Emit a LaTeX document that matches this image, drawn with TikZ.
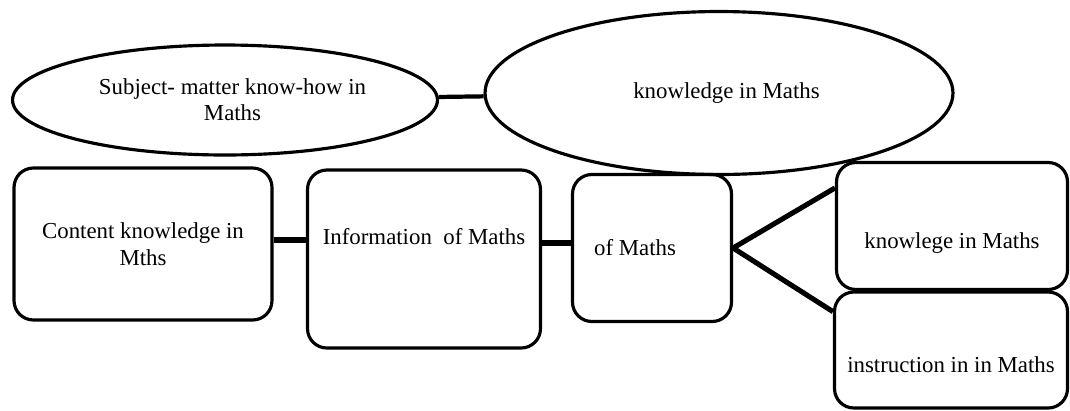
\documentclass[tikz,border=0pt]{standalone}
\usepackage{fontspec}
\setmainfont{Liberation Serif}
\usetikzlibrary{shapes.geometric}

\begin{document}
\begin{tikzpicture}[x=0.02cm, y=-0.02cm, every node/.style={font=\fontsize{13}{15}\selectfont}] % 1 unit = 1 px of the sketch
                \tikzset{
                  oval/.style={draw, ellipse, line width=1.8pt, align=center, inner sep=0pt},
                  box/.style={draw, rectangle, rounded corners=11pt, line width=1.8pt, inner sep=0pt},
                  link/.style={line width=2.9pt}
                }
                \useasboundingbox (0,0) rectangle (1070,410);

                % Top row: the two ovals
                \node[oval, minimum width=8.5cm, minimum height=2.2cm] (subject) at (225,100) {\hspace*{0.3cm}Subject- matter know-how in\\\hspace*{0.3cm}Maths};
                \node[oval, minimum width=9.36cm, minimum height=3.26cm] (knowledge) at (719,93) {\hspace*{0.3cm}knowledge in Maths};
                \draw[link, line width=2.4pt] (subject) -- (knowledge);

                % Bottom row: the chain of boxes
                \node[box, minimum width=5.16cm, minimum height=3.04cm, align=center] (content) at (143,244) {Content knowledge in\\Mths};
                \node[box, minimum width=4.66cm, minimum height=3.56cm,
                      label={[yshift=0.44cm]center:Information\ \ of Maths}] (information) at (424,259) {};
                \node[box, minimum width=3.18cm, minimum height=2.94cm,
                      label={[xshift=-0.34cm]center:of Maths}] (ofmaths) at (652,248) {};
                \draw[link, line width=3.4pt] ([yshift=0.08cm]content.east) -- ([yshift=0.08cm]content.east -| information.west);
                \draw[link] ([yshift=0.1cm]ofmaths.west -| information.east) -- ([yshift=0.1cm]ofmaths.west);

                % Right column: the two branches
                \node[box, minimum width=4.62cm, minimum height=2.54cm,
                      label={[yshift=-0.34cm]center:knowlege in Maths}] (knowlege) at (952,226) {};
                \node[box, minimum width=4.66cm, minimum height=2.32cm,
                      label={[yshift=-0.3cm]center:instruction in in Maths}] (instruction) at (951,350) {};
                \foreach \branch in {knowlege, instruction} {
                \draw[link] (ofmaths.east) -- (\branch.162);
                }

            \end{tikzpicture}
\end{document}
